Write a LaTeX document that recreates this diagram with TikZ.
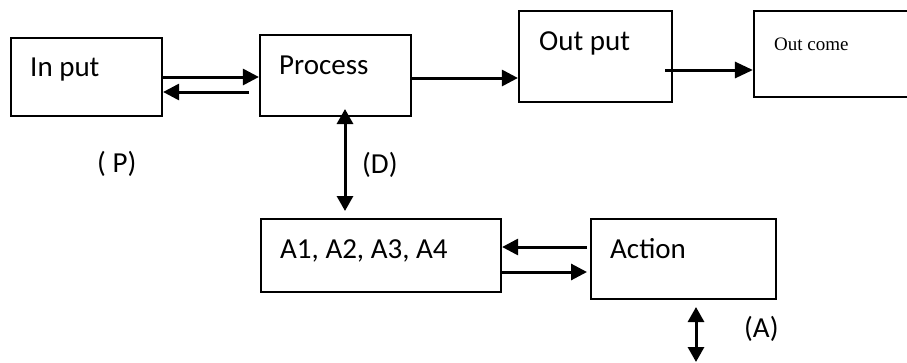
\documentclass[tikz,border=0pt]{standalone}
\usepackage{fontspec}
\setmainfont{Carlito}
\newfontfamily\serifrm{Liberation Serif}
\usepackage{tikz}
\usetikzlibrary{arrows.meta,positioning}
\newcommand{\bigtxt}{\fontsize{29}{35}\selectfont}

\begin{document}
\begin{tikzpicture}[
    x=1pt, y=-1pt,
    box/.style   = {rectangle, draw, line width=2.2pt, inner sep=0pt},
    lbl/.style   = {inner sep=0pt, anchor=base west, font=\bigtxt},
    arr/.style   = {-{Triangle[length=16pt,width=16pt]}, line width=3pt},
    dbl/.style   = {{Triangle[length=15pt,width=16pt]}-{Triangle[length=15pt,width=16pt]},
                    line width=3pt},
]
  \useasboundingbox (0,0) rectangle (907,362);

  % boxes
  \node[box, minimum width=151pt, minimum height=78pt] (input)   at (86.5,77)   {};
  \node[box, minimum width=151pt, minimum height=81pt] (process) at (335.5,75.5) {};
  \node[box, minimum width=153pt, minimum height=91pt] (output)  at (595.5,56.5) {};
  \node[box, minimum width=156pt, minimum height=86pt] (outcome) at (832,54)    {};
  \node[box, minimum width=240pt, minimum height=73pt] (acts)    at (381,255.5) {};
  \node[box, minimum width=185pt, minimum height=80pt] (action)  at (683.5,259) {};

  % texts
  \node[lbl] (tin)   at (30,76)   {In put};
  \node[lbl] (tproc) at (279,74)  {Process};
  \node[lbl] (tout)  at (539,50)  {Out put};
  \node[lbl, font=\serifrm\fontsize{19}{23}\selectfont] (tcome) at (774,50) {Out come};
  \node[lbl] (tacts) at (280,258) {A1, A2, A3, A4};
  \node[lbl] (tact)  at (610,258) {Action};
  \node[lbl] (labP)  at (97,172)  {( P)};
  \node[lbl] (labD)  at (362,173) {(D)};
  \node[lbl] (labA)  at (744,337) {(A)};

  % input <-> process
  \draw[arr] (input.east) -- (input.east -| process.west);
  \coordinate (back) at (249,92);
  \draw[arr] (back) -- (back -| input.east);

  % process -> output -> outcome
  \coordinate (p2o) at ([yshift=-2.5pt]process.east);
  \draw[arr] (p2o) -- (p2o -| output.west);
  \coordinate (o2c) at (665,70);
  \draw[{Triangle[length=18pt,width=16pt]}-, line width=3pt]
      (o2c -| outcome.west) -- (o2c);

  % process <-> acts
  \coordinate (dtop) at (345,109);
  \coordinate (dbot) at (345,211);
  \draw[dbl] (dtop) -- (dbot);

  % acts <-> action
  \coordinate (act2a) at (587,247);
  \draw[arr] (act2a) -- (act2a -| acts.east);
  \coordinate (a2act) at (587,272);
  \draw[arr] (a2act -| acts.east) -- (a2act);

  % action <-> below
  \coordinate (atop) at (696,307);
  \coordinate (abot) at (696,362);
  \draw[dbl] (atop) -- (abot);

\end{tikzpicture}
\end{document}
